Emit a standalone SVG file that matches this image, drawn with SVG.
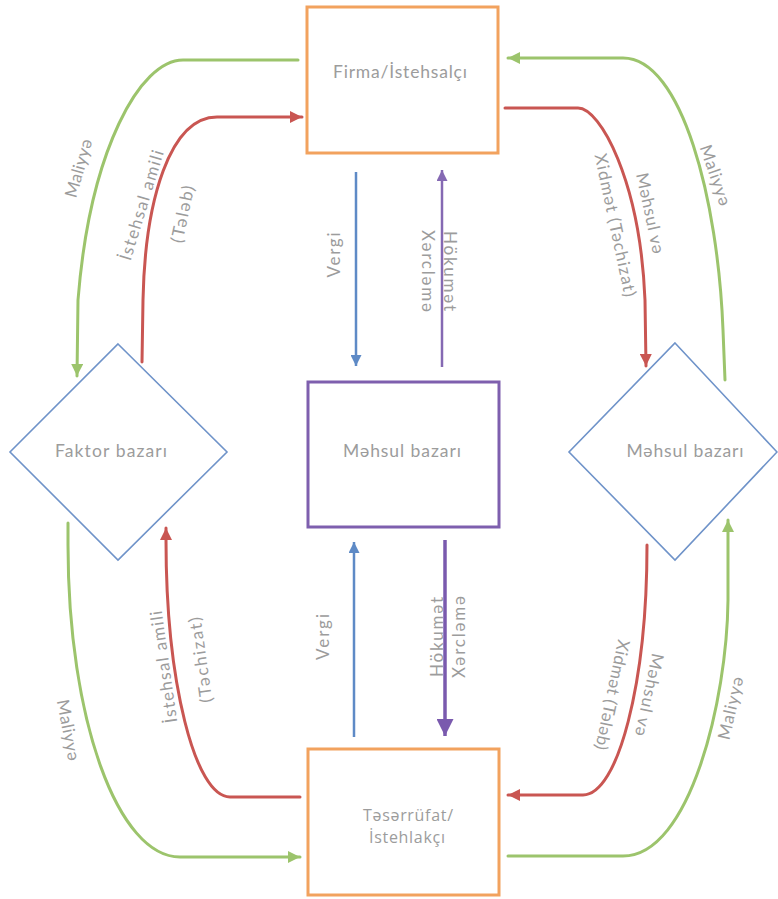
<svg xmlns="http://www.w3.org/2000/svg" width="778" height="899" viewBox="0 0 778 899">
  <style>
    .box { fill: #ffffff; stroke: #F2A25E; stroke-width: 3; }
    .gov { fill: #ffffff; stroke: #7E5FAE; stroke-width: 3; }
    .mkt { fill: #ffffff; stroke: #6F93C9; stroke-width: 1.6; }
    .green { fill: none; stroke: #9CC46C; stroke-width: 3; stroke-linecap: round; }
    .red { fill: none; stroke: #C95652; stroke-width: 3; stroke-linecap: round; }
    .blue { fill: none; stroke: #5E8AC6; stroke-width: 2.5; }
    .purple { fill: none; stroke: #8569B3; stroke-width: 2.5; }
    .purple-b { fill: none; stroke: #7A5AAE; stroke-width: 3.5; }
    text { font-family: "Lato", "Liberation Sans", sans-serif; font-size: 17px; fill: #9C9C9C; }
    .node { text-anchor: middle; font-size: 17.5px; }
    .node.hh { font-family: "Open Sans", "Liberation Sans", sans-serif; font-size: 16px; }
    .lbl { text-anchor: middle; dominant-baseline: central; }
  </style>
  <defs>
    <marker id="ah-green" markerUnits="userSpaceOnUse" markerWidth="12" markerHeight="12" refX="10" refY="5" orient="auto" viewBox="0 0 10 10">
      <path d="M0,0 L10,5 L0,10 z" fill="#9CC46C"/>
    </marker>
    <marker id="ah-red" markerUnits="userSpaceOnUse" markerWidth="12" markerHeight="12" refX="10" refY="5" orient="auto" viewBox="0 0 10 10">
      <path d="M0,0 L10,5 L0,10 z" fill="#C95652"/>
    </marker>
    <marker id="ah-blue" markerUnits="userSpaceOnUse" markerWidth="11" markerHeight="11" refX="10" refY="5" orient="auto" viewBox="0 0 10 10">
      <path d="M0,0 L10,5 L0,10 z" fill="#5E8AC6"/>
    </marker>
    <marker id="ah-purple" markerUnits="userSpaceOnUse" markerWidth="11" markerHeight="11" refX="10" refY="5" orient="auto" viewBox="0 0 10 10">
      <path d="M0,0 L10,5 L0,10 z" fill="#8569B3"/>
    </marker>
    <marker id="ah-purple-b" markerUnits="userSpaceOnUse" markerWidth="17" markerHeight="17" refX="10" refY="5" orient="auto" viewBox="0 0 10 10">
      <path d="M0,0 L10,5 L0,10 z" fill="#7A5AAE"/>
    </marker>
  </defs>

  <!-- connectors -->
  <g id="connectors">
    <!-- finance flows (green) -->
    <path class="green" d="M298,60 H183 C140,60 90,150 78,300 L77,376" marker-end="url(#ah-green)"/>
    <path class="green" d="M725,380 L723,330 C718,200 682,58 623,58 H508" marker-end="url(#ah-green)"/>
    <path class="green" d="M68,523 L68,545 C68,720 118,857 180,857 H300" marker-end="url(#ah-green)"/>
    <path class="green" d="M508,856 H623 C690,856 727,700 728,600 L728,520" marker-end="url(#ah-green)"/>
    <!-- goods and factor flows (red) -->
    <path class="red" d="M142,362 L143,300 C145,200 170,117 217,117 H302" marker-end="url(#ah-red)"/>
    <path class="red" d="M505,108 H578 C600,108 640,180 645,300 L646,366" marker-end="url(#ah-red)"/>
    <path class="red" d="M647,545 C647,683 618,795 583,795 H508" marker-end="url(#ah-red)"/>
    <path class="red" d="M300,797 H230 C195,797 166,682 166,540 L166,528" marker-end="url(#ah-red)"/>
    <!-- taxes and government spending -->
    <path class="blue" d="M356,172 L356,366" marker-end="url(#ah-blue)"/>
    <path class="purple" d="M442,367 L442,170" marker-end="url(#ah-purple)"/>
    <path class="blue" d="M354,737 L354,542" marker-end="url(#ah-blue)"/>
    <path class="purple-b" d="M445,540 L445,736" marker-end="url(#ah-purple-b)"/>
  </g>

  <!-- connector labels -->
  <g id="labels">
    <text class="lbl" transform="translate(78,168) rotate(-74)" textLength="60" lengthAdjust="spacing">Maliyyə</text>
    <text class="lbl" transform="translate(141,205) rotate(-73)" textLength="114" lengthAdjust="spacing">İstehsal amili</text>
    <text class="lbl" transform="translate(182,214) rotate(-78)" textLength="58" lengthAdjust="spacing">(Tələb)</text>
    <text class="lbl" transform="translate(333,255) rotate(-90)" textLength="45" lengthAdjust="spacing">Vergi</text>
    <text class="lbl" transform="translate(450,271) rotate(90)" textLength="80" lengthAdjust="spacing">Hökumət</text>
    <text class="lbl" transform="translate(428,271) rotate(90)" textLength="82" lengthAdjust="spacing">Xərcləmə</text>
    <text class="lbl" transform="translate(651,213) rotate(78)" textLength="82" lengthAdjust="spacing">Məhsul və</text>
    <text class="lbl" transform="translate(616,225) rotate(78)" textLength="146" lengthAdjust="spacing">Xidmət (Təchizat)</text>
    <text class="lbl" transform="translate(716,175) rotate(71)" textLength="63" lengthAdjust="spacing">Maliyyə</text>

    <text class="lbl" transform="translate(69,730) rotate(79)" textLength="62" lengthAdjust="spacing">Maliyyə</text>
    <text class="lbl" transform="translate(163,667) rotate(-98)" textLength="113" lengthAdjust="spacing">İstehsal amili</text>
    <text class="lbl" transform="translate(200,660) rotate(-98)" textLength="86" lengthAdjust="spacing">(Təchizat)</text>
    <text class="lbl" transform="translate(322,637) rotate(-90)" textLength="46" lengthAdjust="spacing">Vergi</text>
    <text class="lbl" transform="translate(436,637) rotate(-90)" textLength="80" lengthAdjust="spacing">Hökumət</text>
    <text class="lbl" transform="translate(458,637) rotate(-90)" textLength="82" lengthAdjust="spacing">Xərcləmə</text>
    <text class="lbl" transform="translate(650,695) rotate(102)" textLength="84" lengthAdjust="spacing">Məhsul və</text>
    <text class="lbl" transform="translate(613,695) rotate(102)" textLength="112" lengthAdjust="spacing">Xidmət (Tələb)</text>
    <text class="lbl" transform="translate(730,708) rotate(-77)" textLength="64" lengthAdjust="spacing">Maliyyə</text>
  </g>

  <!-- nodes -->
  <g id="firm">
    <rect class="box" x="307" y="7" width="191" height="146"/>
    <text class="node" x="400" y="78" textLength="134" lengthAdjust="spacing">Firma/İstehsalçı</text>
  </g>
  <g id="factor-market">
    <polygon class="mkt" points="118,344 227,452 118,560 10,452"/>
    <text class="node" x="111" y="457" textLength="112" lengthAdjust="spacing">Faktor bazarı</text>
  </g>
  <g id="government">
    <rect class="gov" x="308" y="382" width="191" height="145"/>
    <text class="node" x="402" y="457" textLength="118" lengthAdjust="spacing">Məhsul bazarı</text>
  </g>
  <g id="product-market">
    <polygon class="mkt" points="675,343 777,452 675,560 569,452"/>
    <text class="node" x="685" y="457" textLength="117" lengthAdjust="spacing">Məhsul bazarı</text>
  </g>
  <g id="household">
    <rect class="box" x="308" y="749" width="191" height="146"/>
    <text class="node hh" x="408" y="821" textLength="90" lengthAdjust="spacing">Təsərrüfat/</text>
    <text class="node hh" x="407" y="843" textLength="76" lengthAdjust="spacing">İstehlakçı</text>
  </g>
</svg>
